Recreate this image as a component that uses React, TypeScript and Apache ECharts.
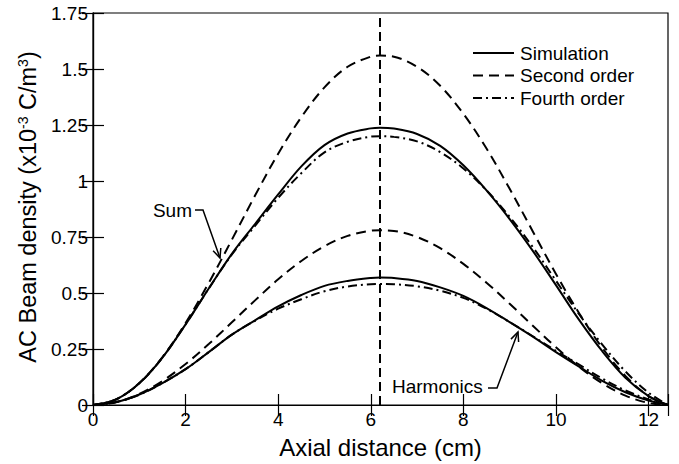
import React, { useEffect, useRef } from 'react';
import * as echarts from 'echarts';

// Axial distance (cm)
const xs = [0, 0.5, 1, 1.5, 2, 2.5, 3, 3.5, 4, 4.5, 5, 5.5, 6, 6.2, 6.5, 7, 7.5, 8, 8.5, 9, 9.5, 10, 10.5, 11, 11.5, 12, 12.42];

// Sum (x10^-3 C/m^3)
const sumSimulation = [0, 0.025, 0.097, 0.212, 0.36, 0.52, 0.675, 0.808, 0.94, 1.065, 1.16, 1.212, 1.235, 1.238, 1.234, 1.21, 1.157, 1.07, 0.958, 0.83, 0.688, 0.535, 0.38, 0.24, 0.122, 0.04, 0];
const sumSecond = [0, 0.025, 0.098, 0.214, 0.366, 0.545, 0.738, 0.935, 1.122, 1.285, 1.418, 1.51, 1.555, 1.56, 1.555, 1.51, 1.425, 1.3, 1.145, 0.965, 0.775, 0.585, 0.41, 0.255, 0.13, 0.04, 0];
const sumFourth = [0, 0.025, 0.097, 0.212, 0.36, 0.52, 0.672, 0.8, 0.925, 1.035, 1.128, 1.175, 1.198, 1.2, 1.197, 1.177, 1.129, 1.056, 0.958, 0.84, 0.705, 0.555, 0.405, 0.27, 0.15, 0.055, 0];

// Harmonics (x10^-3 C/m^3)
const harmSimulation = [0, 0.013, 0.047, 0.098, 0.16, 0.236, 0.314, 0.378, 0.44, 0.491, 0.532, 0.554, 0.567, 0.569, 0.567, 0.554, 0.525, 0.487, 0.433, 0.37, 0.305, 0.236, 0.171, 0.108, 0.057, 0.02, 0];
const harmSecond = [0, 0.012, 0.049, 0.107, 0.183, 0.272, 0.369, 0.467, 0.561, 0.643, 0.709, 0.755, 0.778, 0.78, 0.777, 0.75, 0.7, 0.63, 0.546, 0.452, 0.354, 0.258, 0.17, 0.097, 0.042, 0.009, 0];
const harmFourth = [0, 0.013, 0.046, 0.098, 0.16, 0.236, 0.314, 0.376, 0.43, 0.472, 0.508, 0.529, 0.539, 0.54, 0.539, 0.53, 0.51, 0.478, 0.43, 0.37, 0.307, 0.242, 0.18, 0.118, 0.065, 0.025, 0];

const peakX = 6.2;
const legendNames = ['Simulation', 'Second order', 'Fourth order'];
const xMin = 0;
const xMax = 12.42;
const xInterval = 2;
const yMin = 0;
const yMax = 1.75;
const yInterval = 0.25;

const FONT = '"Liberation Sans", Arial, Helvetica, sans-serif';

function arrowElements(points: number[][], len = 10, ang = 0.42) {
  const n = points.length;
  const [x1, y1] = points[n - 2];
  const [x2, y2] = points[n - 1];
  const dx = x1 - x2;
  const dy = y1 - y2;
  const d = Math.hypot(dx, dy);
  const ux = dx / d;
  const uy = dy / d;
  const rot = (a: number) => [
    x2 + len * (ux * Math.cos(a) - uy * Math.sin(a)),
    y2 + len * (ux * Math.sin(a) + uy * Math.cos(a)),
  ];
  const style = { stroke: '#000', lineWidth: 1.5, fill: 'none' };
  return [
    { type: 'polyline', shape: { points }, style, silent: true },
    { type: 'polyline', shape: { points: [rot(ang), [x2, y2], rot(-ang)] }, style, silent: true },
  ];
}

export default function App() {
  const ref = useRef<HTMLDivElement>(null);
  useEffect(() => {
    const chart = echarts.init(ref.current!, null, { renderer: 'svg' });
    const mk = (name: string, ys: number[], type: any, extra: any = {}) => ({
      type: 'line',
      name,
      data: xs.map((x, i) => [x, ys[i]]),
      symbol: 'none',
      showSymbol: false,
      smooth: 0.35,
      lineStyle: { color: '#000', width: 2, type },
      itemStyle: { color: '#000' },
      ...extra,
    });
    const dash2 = [10, 6];
    const dash4 = [9, 4, 2, 4];
    const xLabelFmt = (v: number) =>
      Math.abs(v / xInterval - Math.round(v / xInterval)) < 1e-6 ? String(v) : '';
    const option: any = {
      animation: false,
      backgroundColor: '#fff',
      textStyle: { fontFamily: FONT },
      grid: { left: 93, right: 11, top: 13, bottom: 51, show: true, borderColor: '#000', borderWidth: 1.2 },
      legend: {
        data: legendNames,
        orient: 'vertical',
        left: 467,
        top: 38,
        itemWidth: 41,
        itemHeight: 14,
        itemGap: 2.5,
        selectedMode: false,
        itemStyle: { opacity: 0, color: 'rgba(0,0,0,0)', borderWidth: 0 },
        textStyle: { fontSize: 19, fontFamily: FONT, color: '#000', lineHeight: 20, padding: [0, 0, 0, 1] },
      },
      xAxis: [
        {
          type: 'value',
          min: xMin,
          max: xMax,
          interval: xInterval,
          position: 'bottom',
          name: 'Axial distance (cm)',
          nameLocation: 'middle',
          nameGap: 30,
          nameTextStyle: { fontSize: 24, color: '#000', fontFamily: FONT },
          axisLine: { show: true, lineStyle: { color: '#000', width: 1.2 } },
          axisTick: { show: true, inside: true, length: 11, lineStyle: { color: '#000', width: 1.2 } },
          axisLabel: { fontSize: 19, color: '#000', margin: 5, formatter: xLabelFmt, fontFamily: FONT },
          splitLine: { show: false },
        },
        {
          type: 'value',
          min: xMin,
          max: xMax,
          interval: xInterval,
          position: 'top',
          axisLine: { show: true, lineStyle: { color: '#000', width: 1.2 } },
          axisTick: { show: true, inside: true, length: 11, lineStyle: { color: '#000', width: 1.2 } },
          axisLabel: { show: false },
          splitLine: { show: false },
        },
      ],
      yAxis: [
        {
          type: 'value',
          min: yMin,
          max: yMax,
          interval: yInterval,
          position: 'left',
          axisLine: { show: true, lineStyle: { color: '#000', width: 1.2 } },
          axisTick: { show: true, inside: true, length: 11, lineStyle: { color: '#000', width: 1.2 } },
          axisLabel: { fontSize: 19, color: '#000', margin: 5, fontFamily: FONT },
          splitLine: { show: false },
        },
        {
          type: 'value',
          min: yMin,
          max: yMax,
          interval: yInterval,
          position: 'right',
          axisLine: { show: true, lineStyle: { color: '#000', width: 1.2 } },
          axisTick: { show: true, inside: true, length: 11, lineStyle: { color: '#000', width: 1.2 } },
          axisLabel: { show: false },
          splitLine: { show: false },
        },
      ],
      series: [
        mk('Simulation', sumSimulation, 'solid'),
        mk('Second order', sumSecond, dash2, {
          markLine: {
            silent: true,
            symbol: 'none',
            label: { show: false },
            lineStyle: { color: '#000', width: 2, type: [9, 5] },
            data: [{ xAxis: peakX }],
          },
        }),
        mk('Fourth order', sumFourth, dash4),
        mk('Simulation', harmSimulation, 'solid'),
        mk('Second order', harmSecond, dash2),
        mk('Fourth order', harmFourth, dash4),
      ],
      graphic: [
        {
          type: 'text',
          x: 27.5,
          y: 207,
          rotation: Math.PI / 2,
          style: {
            text: '{a|AC Beam density (x10}{s|-3}{a| C/m}{s|3}{a|)}',
            align: 'center',
            verticalAlign: 'middle',
            fill: '#000',
            fontFamily: FONT,
            rich: {
              a: { fontSize: 23.5, lineHeight: 24, verticalAlign: 'bottom', fontFamily: FONT, fill: '#000' },
              s: { fontSize: 14, lineHeight: 14, verticalAlign: 'top', padding: [0, 0, 18, 0], fontFamily: FONT, fill: '#000' },
            },
          },
          silent: true,
        },
        {
          type: 'text',
          x: 192,
          y: 210,
          style: { text: 'Sum', align: 'right', verticalAlign: 'middle', fontSize: 19, fontFamily: FONT, fill: '#000' },
          silent: true,
        },
        ...arrowElements([[195, 210], [203, 210], [220, 258]]),
        {
          type: 'text',
          x: 392,
          y: 386,
          style: { text: 'Harmonics', align: 'left', verticalAlign: 'middle', fontSize: 19, fontFamily: FONT, fill: '#000' },
          silent: true,
        },
        ...arrowElements([[488, 388], [497, 388], [518, 332]]),
      ],
    };
    chart.setOption(option);
    return () => chart.dispose();
  }, []);
  return <div ref={ref} style={{ position: 'fixed', left: 0, top: 0, width: 679, height: 464 }} />;
}
